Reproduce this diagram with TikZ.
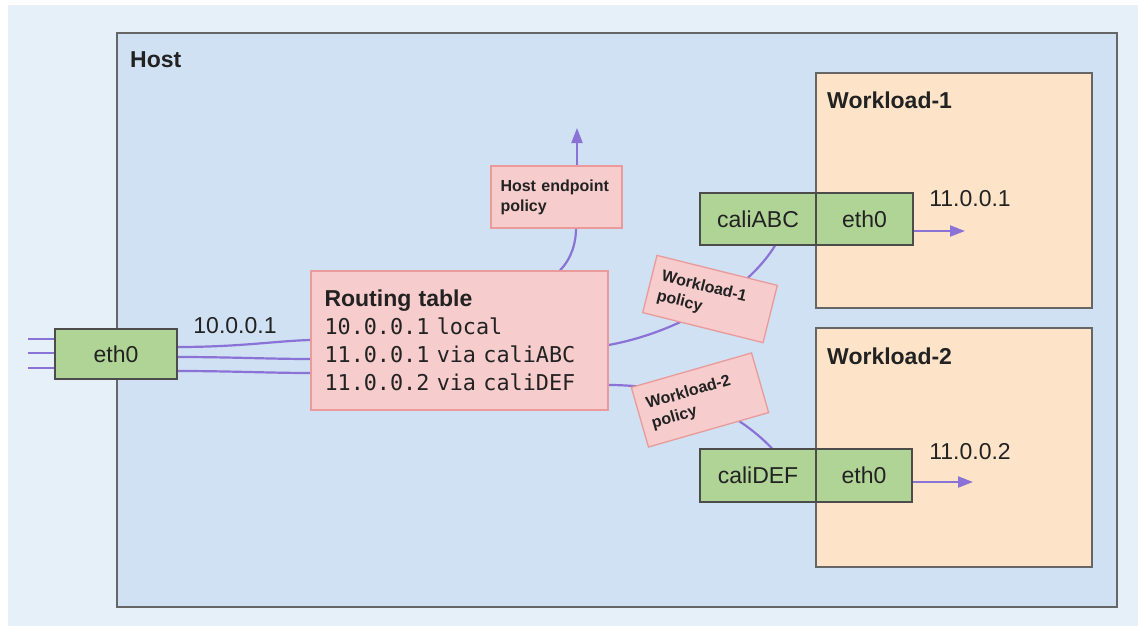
\documentclass[tikz,border=0pt]{standalone}
\usepackage{fontspec}
\setmainfont{Liberation Sans}
\setsansfont{Liberation Sans}
\setmonofont{DejaVu Sans Mono}
\usetikzlibrary{arrows.meta,positioning}
\definecolor{outerbg}{HTML}{E6F0F9}
\definecolor{hostbg}{HTML}{CFE1F2}
\definecolor{wlbg}{HTML}{FDE4C9}
\definecolor{nicgreen}{HTML}{B0D496}
\definecolor{polfill}{HTML}{F6CCCC}
\definecolor{poldraw}{HTML}{EA9A9A}
\definecolor{wirecol}{HTML}{8A72D6}
\definecolor{txt}{HTML}{222222}
\pgfdeclarelayer{back}
\pgfdeclarelayer{wires}
\pgfsetlayers{back,wires,main}
\tikzset{
  hostbox/.style={draw=black!60, fill=hostbg, line width=1.4pt, inner sep=0pt},
  wlbox/.style={draw=black!60, fill=wlbg, line width=1.4pt, inner sep=0pt},
  nicbox/.style={draw=black!70, fill=nicgreen, line width=1.2pt, inner sep=0pt,
    text=txt, font=\fontsize{23}{27}\selectfont},
  polbox/.style={draw=poldraw, fill=polfill, line width=1.3pt, text=txt,
    font=\bfseries\fontsize{16}{20}\selectfont, align=left},
  title/.style={anchor=west, text=txt, inner sep=0pt, font=\bfseries\fontsize{23}{27}\selectfont},
  iplabel/.style={text=txt, inner sep=0pt, font=\fontsize{23}{27}\selectfont},
  wire/.style={draw=wirecol, line width=2.2pt},
  wirearrow/.style={wire, -{Triangle[length=15pt,width=11pt]}},
}
\begin{document}
\begin{tikzpicture}[x=1pt,y=-1pt]
\useasboundingbox (0,0) rectangle (1138,626);

\begin{pgfonlayer}{back}
\fill[white] (0,0) rectangle (1138,626);
\fill[outerbg] (8,5) rectangle (1138,626);
\node[hostbox, minimum width=1000pt, minimum height=574pt] (host) at (617,320) {};
\node[wlbox, minimum width=276pt, minimum height=235pt] (wl1) at (954,190.5) {};
\node[wlbox, minimum width=276pt, minimum height=239pt] (wl2) at (954,447.5) {};
\end{pgfonlayer}

\node[title] (hostlbl) at (130,60) {Host};
\node[title] (wl1lbl) at (827,100) {Workload-1};
\node[title] (wl2lbl) at (827,356) {Workload-2};

% interfaces
\node[nicbox, minimum width=122pt, minimum height=50pt] (eth0L) at (116,354) {eth0};
\node[nicbox, minimum width=116pt, minimum height=52pt] (cA) at (758,219) {caliABC};
\node[nicbox, minimum width=97pt, minimum height=52pt] (eA) at (864.5,219) {eth0};
\node[nicbox, minimum width=116pt, minimum height=53pt] (cD) at (758,475.5) {caliDEF};
\node[nicbox, minimum width=96pt, minimum height=53pt] (eD) at (864,475.5) {eth0};

% routing table
\node[draw=poldraw, fill=polfill, line width=1.3pt, text=txt, align=left,
      text width=270pt, inner xsep=13.5pt, minimum height=139pt,
      font=\ttfamily\fontsize{21.8}{28}\selectfont] (rt) at (459.5,340.5)
  {{\sffamily\bfseries\fontsize{23}{28}\selectfont Routing table}\\
   10.0.0.1 local\\
   11.0.0.1 via caliABC\\
   11.0.0.2 via caliDEF};

% policies
\node[polbox, text width=112pt, inner xsep=9.5pt, minimum height=62pt] (hep) at (556.5,197)
  {Host endpoint\\policy};
\node[polbox, text width=104pt, inner xsep=10pt, minimum height=59pt, rotate=-14] (wp1) at (710,299)
  {Workload-1\\policy};
\node[polbox, text width=105pt, inner xsep=10pt, minimum height=62pt, rotate=16] (wp2) at (700,400)
  {Workload-2\\policy};

% labels
\node[iplabel] (ip10) at (235,326) {10.0.0.1};
\node[iplabel] (ip11) at (970,199) {11.0.0.1};
\node[iplabel] (ip12) at (970,452) {11.0.0.2};

% free ends
\coordinate (in1) at (28,339);
\coordinate (in2) at (28,353);
\coordinate (in3) at (28,368);
\coordinate (hepout) at (577,128);
\coordinate (w1out) at (965,231);
\coordinate (w2out) at (973,482);

\begin{pgfonlayer}{wires}
\draw[wire] (in1) -- ([yshift=15pt]eth0L.west);
\draw[wire] (in2) -- ([yshift=1pt]eth0L.west);
\draw[wire] (in3) -- ([yshift=-14pt]eth0L.west);
\draw[wire] ([yshift=7pt]eth0L.east) .. controls (240,347) and (275,341) .. ([yshift=0.5pt]rt.west);
\draw[wire] ([yshift=-3pt]eth0L.east) .. controls (230,357) and (270,359) .. ([yshift=-18.5pt]rt.west);
\draw[wire] ([yshift=-17pt]eth0L.east) .. controls (230,371) and (270,373) .. ([yshift=-32.5pt]rt.west);
\draw[wire] ([xshift=100.5pt]rt.north) .. controls (572,258) and (576,242) .. ([xshift=19.5pt]hep.south);
\draw[wirearrow] ([xshift=20.5pt]hep.north) -- (hepout);
\draw[wire] ([yshift=-4.5pt]rt.east) .. controls (680,332) and (748,290) .. ([xshift=17pt]cA.south);
\draw[wire] ([yshift=-44.5pt]rt.east) .. controls (680,385) and (735,410) .. ([xshift=14pt]cD.north);
\draw[wirearrow] ([yshift=-12pt]eA.east) -- (w1out);
\draw[wirearrow] ([yshift=-6.5pt]eD.east) -- (w2out);
\end{pgfonlayer}
\end{tikzpicture}
\end{document}
